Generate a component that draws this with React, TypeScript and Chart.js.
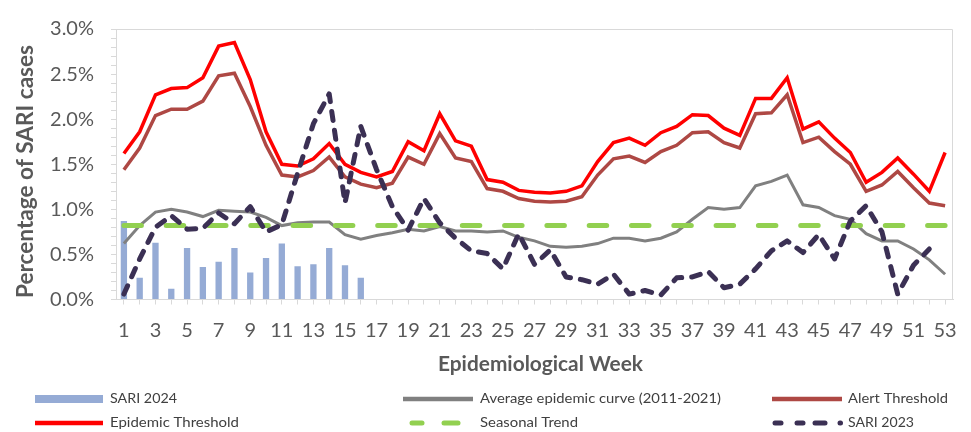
import React, { useEffect, useRef } from "react";
import { Chart, registerables } from "chart.js";

Chart.register(...registerables);

const weeks = ["1","2","3","4","5","6","7","8","9","10","11","12","13","14","15","16","17","18","19","20","21","22","23","24","25","26","27","28","29","30","31","32","33","34","35","36","37","38","39","40","41","42","43","44","45","46","47","48","49","50","51","52","53"];

const sari2024 = [0.87, 0.24, 0.63, 0.12, 0.57, 0.36, 0.42, 0.57, 0.30, 0.46, 0.62, 0.37, 0.39, 0.57, 0.38, 0.24];

const averageCurve = [0.62, 0.82, 0.97, 1.00, 0.97, 0.92, 0.99, 0.98, 0.97, 0.91, 0.82, 0.85, 0.86, 0.86, 0.72, 0.67, 0.71, 0.74, 0.78, 0.76, 0.81, 0.76, 0.76, 0.75, 0.76, 0.69, 0.65, 0.59, 0.58, 0.59, 0.62, 0.68, 0.68, 0.65, 0.68, 0.75, 0.89, 1.02, 1.00, 1.02, 1.26, 1.31, 1.38, 1.05, 1.02, 0.93, 0.89, 0.73, 0.65, 0.65, 0.56, 0.44, 0.28];

const alertThreshold = [1.44, 1.68, 2.04, 2.11, 2.11, 2.20, 2.48, 2.51, 2.14, 1.71, 1.38, 1.36, 1.43, 1.58, 1.36, 1.28, 1.24, 1.29, 1.58, 1.50, 1.84, 1.57, 1.53, 1.23, 1.20, 1.12, 1.09, 1.08, 1.09, 1.14, 1.38, 1.56, 1.59, 1.52, 1.64, 1.71, 1.85, 1.86, 1.74, 1.68, 2.06, 2.07, 2.27, 1.74, 1.80, 1.64, 1.50, 1.20, 1.27, 1.42, 1.24, 1.07, 1.04];

const epidemicThreshold = [1.62, 1.86, 2.27, 2.34, 2.35, 2.46, 2.81, 2.85, 2.44, 1.86, 1.50, 1.48, 1.56, 1.73, 1.50, 1.41, 1.36, 1.42, 1.75, 1.65, 2.06, 1.76, 1.70, 1.33, 1.30, 1.21, 1.19, 1.18, 1.20, 1.26, 1.53, 1.74, 1.79, 1.71, 1.85, 1.92, 2.05, 2.04, 1.90, 1.82, 2.23, 2.23, 2.46, 1.89, 1.97, 1.79, 1.63, 1.30, 1.41, 1.57, 1.39, 1.20, 1.63];

const seasonalTrend = [0.82, 0.82, 0.82, 0.82, 0.82, 0.82, 0.82, 0.82, 0.82, 0.82, 0.82, 0.82, 0.82, 0.82, 0.82, 0.82, 0.82, 0.82, 0.82, 0.82, 0.82, 0.82, 0.82, 0.82, 0.82, 0.82, 0.82, 0.82, 0.82, 0.82, 0.82, 0.82, 0.82, 0.82, 0.82, 0.82, 0.82, 0.82, 0.82, 0.82, 0.82, 0.82, 0.82, 0.82, 0.82, 0.82, 0.82, 0.82, 0.82, 0.82, 0.82, 0.82, 0.82];

const sari2023 = [0.06, 0.45, 0.80, 0.93, 0.78, 0.79, 0.96, 0.84, 1.03, 0.75, 0.83, 1.40, 1.95, 2.28, 1.07, 1.92, 1.44, 1.03, 0.77, 1.12, 0.85, 0.68, 0.54, 0.51, 0.34, 0.73, 0.39, 0.55, 0.25, 0.22, 0.17, 0.28, 0.06, 0.10, 0.05, 0.24, 0.25, 0.31, 0.13, 0.17, 0.34, 0.54, 0.65, 0.52, 0.72, 0.45, 0.87, 1.04, 0.75, 0.06, 0.38, 0.56];

const yTitle = "Percentage of SARI cases";
const xTitle = "Epidemiological Week";

const legendLabels = ["SARI 2024", "Average epidemic curve (2011-2021)", "Alert Threshold", "Epidemic Threshold", "Seasonal Trend", "SARI 2023"];

const C_BAR = "#95ABD5";
const C_AVG = "#808080";
const C_ALERT = "#AE4844";
const C_EPI = "#FF0000";
const C_SEAS = "#92D050";
const C_2023 = "#3B3054";
const C_TEXT = "#595959";
const C_AXIS = "#D9D9D9";

const FONT = "Lato, 'Open Sans', sans-serif";

function drawScaledText(ctx: CanvasRenderingContext2D, text: string, x: number, y: number, targetW: number) {
  const w = ctx.measureText(text).width;
  ctx.save();
  ctx.translate(x, y);
  ctx.scale(targetW / w, 1);
  ctx.fillText(text, 0, 0);
  ctx.restore();
}

function line(ctx: CanvasRenderingContext2D, x1: number, x2: number, y: number) {
  ctx.beginPath();
  ctx.moveTo(x1, y);
  ctx.lineTo(x2, y);
  ctx.stroke();
}

const framePlugin = {
  id: "frame",
  beforeDatasetsDraw(chart: any) {
    const { ctx, chartArea } = chart;
    ctx.save();
    ctx.strokeStyle = C_AXIS;
    ctx.lineWidth = 1;
    ctx.beginPath();
    ctx.moveTo(chartArea.left, chartArea.top + 0.5);
    ctx.lineTo(chartArea.right - 0.5, chartArea.top + 0.5);
    ctx.lineTo(chartArea.right - 0.5, chartArea.bottom);
    ctx.stroke();
    ctx.restore();
  },
  afterDraw(chart: any) {
    const { ctx, chartArea } = chart;
    ctx.save();
    // axis titles
    ctx.fillStyle = C_TEXT;
    ctx.textAlign = "left";
    ctx.textBaseline = "middle";
    ctx.font = `bold 22px ${FONT}`;
    ctx.save();
    ctx.translate(26, 171.5);
    ctx.rotate(-Math.PI / 2);
    drawScaledText(ctx, yTitle, -126.5, 0, 253);
    ctx.restore();
    ctx.font = `bold 20px ${FONT}`;
    const xc = (chartArea.left + chartArea.right) / 2 + 6;
    drawScaledText(ctx, xTitle, xc - 102.5, 365, 205);

    // legend
    const row1 = 399;
    const row2 = 423;
    ctx.lineCap = "butt";
    ctx.fillStyle = C_BAR;
    ctx.fillRect(35, row1 - 4, 68, 8);
    ctx.lineWidth = 4.5;
    ctx.strokeStyle = C_AVG;
    line(ctx, 403, 473, row1);
    ctx.strokeStyle = C_ALERT;
    line(ctx, 772, 842, row1);
    ctx.strokeStyle = C_EPI;
    line(ctx, 35, 103, row2);
    ctx.lineCap = "round";
    ctx.lineWidth = 5;
    ctx.strokeStyle = C_SEAS;
    line(ctx, 412, 422, row2);
    line(ctx, 444, 458, row2);
    ctx.strokeStyle = C_2023;
    line(ctx, 775, 781, row2);
    line(ctx, 797, 803, row2);
    line(ctx, 815, 825, row2);
    line(ctx, 840, 840.5, row2);

    ctx.fillStyle = "#404040";
    ctx.textAlign = "left";
    ctx.textBaseline = "middle";
    ctx.font = `13.5px ${FONT}`;
    drawScaledText(ctx, legendLabels[0], 110, row1, 67);
    drawScaledText(ctx, legendLabels[1], 480, row1, 241);
    drawScaledText(ctx, legendLabels[2], 848, row1, 100);
    drawScaledText(ctx, legendLabels[3], 110, row2, 129);
    drawScaledText(ctx, legendLabels[4], 480, row2, 98);
    drawScaledText(ctx, legendLabels[5], 848, row2, 66);
    ctx.restore();
  },
};

export default function App() {
  const ref = useRef<HTMLCanvasElement | null>(null);

  useEffect(() => {
    if (!ref.current) return;
    const chart = new Chart(ref.current, {
      type: "bar",
      data: {
        labels: weeks,
        datasets: [
          {
            type: "bar",
            label: legendLabels[0],
            data: sari2024,
            backgroundColor: C_BAR,
            barPercentage: 0.4,
            categoryPercentage: 1,
            order: 6,
          },
          {
            type: "line",
            label: legendLabels[1],
            data: averageCurve,
            borderColor: C_AVG,
            borderWidth: 3,
            pointRadius: 0,
            tension: 0,
            order: 5,
          },
          {
            type: "line",
            label: legendLabels[2],
            data: alertThreshold,
            borderColor: C_ALERT,
            borderWidth: 3.5,
            pointRadius: 0,
            tension: 0,
            order: 4,
          },
          {
            type: "line",
            label: legendLabels[3],
            data: epidemicThreshold,
            borderColor: C_EPI,
            borderWidth: 3.5,
            pointRadius: 0,
            tension: 0,
            order: 3,
          },
          {
            type: "line",
            label: legendLabels[4],
            data: seasonalTrend,
            borderColor: C_SEAS,
            borderWidth: 5,
            borderDash: [17.5, 24.8],
            borderCapStyle: "round",
            pointRadius: 0,
            tension: 0,
            order: 2,
          },
          {
            type: "line",
            label: legendLabels[5],
            data: sari2023,
            borderColor: C_2023,
            borderWidth: 5,
            borderDash: [9, 10],
            borderCapStyle: "round",
            borderJoinStyle: "round",
            pointRadius: 0,
            tension: 0,
            order: 1,
          },
        ],
      } as any,
      options: {
        responsive: false,
        animation: false,
        layout: { padding: { left: 0, top: 15, right: 18, bottom: 52 } },
        plugins: {
          legend: { display: false },
          tooltip: { enabled: false },
          title: { display: false },
        },
        scales: {
          x: {
            offset: true,
            grid: {
              offset: false,
              drawOnChartArea: false,
              drawTicks: true,
              tickLength: 5,
              color: C_AXIS,
            },
            border: { display: true, color: C_AXIS, width: 1 },
            ticks: {
              autoSkip: false,
              maxRotation: 0,
              minRotation: 0,
              padding: 14,
              color: C_TEXT,
              font: { family: FONT, size: 20 },
              callback: (_v: any, i: number) => (i % 2 === 0 ? weeks[i] : ""),
            },
            afterFit: (scale: any) => {
              scale.height = 80.5;
            },
          },
          y: {
            min: 0,
            max: 3,
            grid: {
              drawOnChartArea: false,
              drawTicks: true,
              tickLength: 5,
              color: C_AXIS,
            },
            border: { display: true, color: C_AXIS, width: 1 },
            ticks: {
              stepSize: 0.1,
              autoSkip: false,
              padding: 17,
              color: C_TEXT,
              font: { family: FONT, size: 20 },
              callback: (v: any) => {
                const n = Number(v);
                return Math.abs(n * 2 - Math.round(n * 2)) < 1e-6 ? n.toFixed(1) + "%" : "";
              },
            },
            afterFit: (scale: any) => {
              scale.width = 116;
            },
          },
        },
      } as any,
      plugins: [framePlugin],
    });
    return () => chart.destroy();
  }, []);

  return (
    <div style={{ position: "absolute", left: 0, top: 0, width: 971, height: 432, background: "#fff" }}>
      <canvas ref={ref} width={971} height={432} style={{ width: 971, height: 432, display: "block" }} />
    </div>
  );
}
